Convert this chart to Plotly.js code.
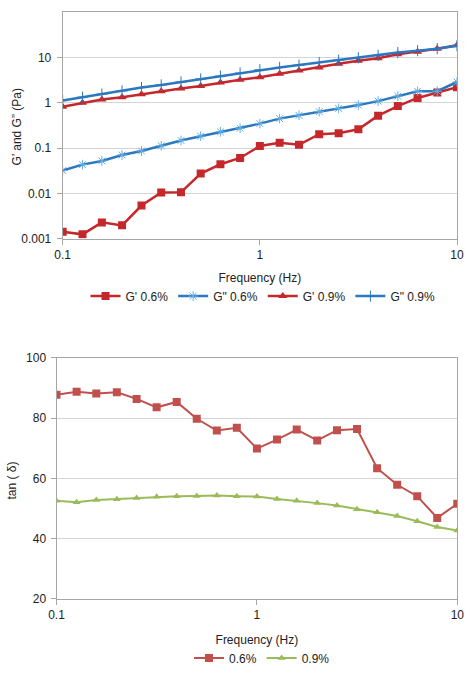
<!DOCTYPE html>
<html>
<head>
<meta charset="utf-8">
<script src="https://cdn.plot.ly/plotly-3.0.1.min.js"></script>
<style>
  html, body { margin: 0; padding: 0; background: #ffffff; }
  #chart { width: 471px; height: 673px; }
</style>
</head>
<body>
<div id="chart"></div>
<script>
// Oscillatory frequency sweep (Hz), shared by both panels
const frequency = [0.1, 0.126, 0.158, 0.2, 0.251, 0.316, 0.398, 0.501, 0.631, 0.794,
                   1, 1.26, 1.58, 2, 2.51, 3.16, 3.98, 5.01, 6.31, 7.94, 10];

// Storage modulus G' and loss modulus G" (Pa)
const gPrime06 = [0.00142, 0.00124, 0.00228, 0.00196, 0.00537, 0.0104, 0.0105, 0.0274, 0.0439, 0.0604,
                  0.111, 0.131, 0.118, 0.203, 0.213, 0.261, 0.519, 0.845, 1.28, 1.68, 2.2];
const gDouble06 = [0.0319, 0.0431, 0.0519, 0.0703, 0.086, 0.112, 0.147, 0.183, 0.228, 0.274,
                   0.347, 0.447, 0.528, 0.636, 0.751, 0.889, 1.09, 1.4, 1.8, 1.8, 2.88];
const gPrime09 = [0.82, 1.0, 1.18, 1.33, 1.55, 1.8, 2.06, 2.36, 2.79, 3.24,
                  3.68, 4.39, 5.19, 6.04, 7.26, 8.45, 9.67, 11.8, 13.5, 15.7, 18.6];
const gDouble09 = [1.12, 1.33, 1.55, 1.83, 2.17, 2.48, 2.88, 3.36, 3.9, 4.54,
                   5.37, 6.04, 6.8, 7.76, 8.74, 9.84, 11.2, 12.9, 14.2, 15.7, 18.3];

// Loss tangent
const tan06 = [87.8, 88.8, 88.2, 88.6, 86.4, 83.6, 85.4, 79.8, 75.9, 76.8,
               69.9, 72.9, 76.2, 72.6, 76.0, 76.4, 63.4, 57.9, 54.1, 46.9, 51.6];
const tan09 = [52.6, 52.1, 52.8, 53.1, 53.5, 53.9, 54.1, 54.2, 54.3, 54.1,
               54.0, 53.2, 52.6, 51.8, 51.0, 49.8, 48.8, 47.5, 45.8, 43.9, 42.7];

const freqTicks = [0.1, 1, 10];
const freqTickText = ['0.1', '1', '10'];
const modTicks = [0.001, 0.01, 0.1, 1, 10];
const modTickText = ['0.001', '0.01', '0.1', '1', '10'];
const tanTicks = [20, 40, 60, 80, 100];

const RED = '#c4282b';
const BLUE = '#2b78c0';
const LIGHTBLUE = '#62ade2';
const RED2 = '#c0504d';
const GREEN = '#9bbb59';

const W = 471, H = 673;
const px = v => v / W;
const py = v => 1 - v / H;

const FONT = 'Liberation Sans, Arial, sans-serif';
const TXT = '#222';

const traces = [
  { x: frequency, y: gPrime06, name: "G' 0.6%", type: 'scatter', mode: 'lines+markers',
    xaxis: 'x', yaxis: 'y', legend: 'legend',
    line: { color: RED, width: 2.5 },
    marker: { symbol: 'square', size: 8, color: RED } },
  { x: frequency, y: gDouble06, name: 'G" 0.6%', type: 'scatter', mode: 'lines+markers',
    xaxis: 'x', yaxis: 'y', legend: 'legend',
    line: { color: BLUE, width: 2.5 },
    marker: { symbol: 'asterisk-open', size: 8, color: LIGHTBLUE, line: { color: LIGHTBLUE, width: 1 } } },
  { x: frequency, y: gPrime09, name: "G' 0.9%", type: 'scatter', mode: 'lines+markers',
    xaxis: 'x', yaxis: 'y', legend: 'legend',
    line: { color: RED, width: 2.5 },
    marker: { symbol: 'triangle-up', size: 8, color: RED } },
  { x: frequency, y: gDouble09, name: 'G" 0.9%', type: 'scatter', mode: 'lines+markers',
    xaxis: 'x', yaxis: 'y', legend: 'legend',
    line: { color: BLUE, width: 2.5 },
    marker: { symbol: 'cross-thin-open', size: 8, color: BLUE, line: { color: BLUE, width: 1 } } },
  { x: frequency, y: tan06, name: '0.6%', type: 'scatter', mode: 'lines+markers',
    xaxis: 'x2', yaxis: 'y2', legend: 'legend2',
    line: { color: RED2, width: 2 },
    marker: { symbol: 'square', size: 8, color: RED2 } },
  { x: frequency, y: tan09, name: '0.9%', type: 'scatter', mode: 'lines+markers',
    xaxis: 'x2', yaxis: 'y2', legend: 'legend2',
    line: { color: GREEN, width: 2 },
    marker: { symbol: 'triangle-up', size: 7, color: GREEN } }
];

const axisCommon = {
  showline: true, mirror: true, linecolor: '#a6a6a6', linewidth: 1,
  ticks: 'outside', ticklen: 5, tickcolor: '#a6a6a6', tickwidth: 1,
  tickfont: { family: FONT, size: 12, color: TXT },
  zeroline: false, fixedrange: true
};
const titleFont = { family: FONT, size: 12, color: TXT };

const layout = {
  width: W, height: H,
  margin: { l: 0, r: 0, t: 0, b: 0 },
  paper_bgcolor: '#ffffff', plot_bgcolor: '#ffffff',
  font: { family: FONT, size: 12, color: TXT },
  showlegend: true,
  xaxis: Object.assign({}, axisCommon, {
    type: 'log', range: [-1, 1], domain: [px(62.7), px(457)], anchor: 'y',
    tickvals: freqTicks, ticktext: freqTickText, showgrid: false,
    title: { text: 'Frequency (Hz)', font: titleFont, standoff: 12 }
  }),
  yaxis: Object.assign({}, axisCommon, {
    type: 'log', range: [-3, 2], domain: [py(239.3), py(12.3)], anchor: 'x',
    tickvals: modTicks, ticktext: modTickText, showgrid: true, gridcolor: '#d4d4d4',
    ticklabelstandoff: 3
  }),
  xaxis2: Object.assign({}, axisCommon, {
    type: 'log', range: [-1, 1], domain: [px(56.5), px(457.3)], anchor: 'y2',
    tickvals: freqTicks, ticktext: freqTickText, showgrid: false,
    title: { text: 'Frequency (Hz)', font: titleFont, standoff: 14 }
  }),
  yaxis2: Object.assign({}, axisCommon, {
    range: [20, 100], domain: [py(600.7), py(359)], anchor: 'x2',
    tickvals: tanTicks, showgrid: true, gridcolor: '#d4d4d4',
    ticklabelstandoff: 2
  }),
  // vertical axis titles
  annotations: [
    { text: 'G\u2019 and G\u201d (Pa)', xref: 'paper', yref: 'paper', x: px(17), y: py(127),
      xanchor: 'center', yanchor: 'middle', textangle: -90, showarrow: false, font: titleFont },
    { text: 'tan ( \u03b4)', xref: 'paper', yref: 'paper', x: px(12), y: py(482),
      xanchor: 'center', yanchor: 'middle', textangle: -90, showarrow: false, font: titleFont }
  ],
  legend: {
    orientation: 'h', x: px(263), xanchor: 'center', y: py(297), yanchor: 'middle',
    font: { family: FONT, size: 12, color: TXT }, bgcolor: 'rgba(0,0,0,0)'
  },
  legend2: {
    orientation: 'h', x: px(262), xanchor: 'center', y: py(660), yanchor: 'middle',
    font: { family: FONT, size: 12, color: TXT }, bgcolor: 'rgba(0,0,0,0)'
  }
};

Plotly.newPlot('chart', traces, layout, { displayModeBar: false, staticPlot: true });
</script>
</body>
</html>
